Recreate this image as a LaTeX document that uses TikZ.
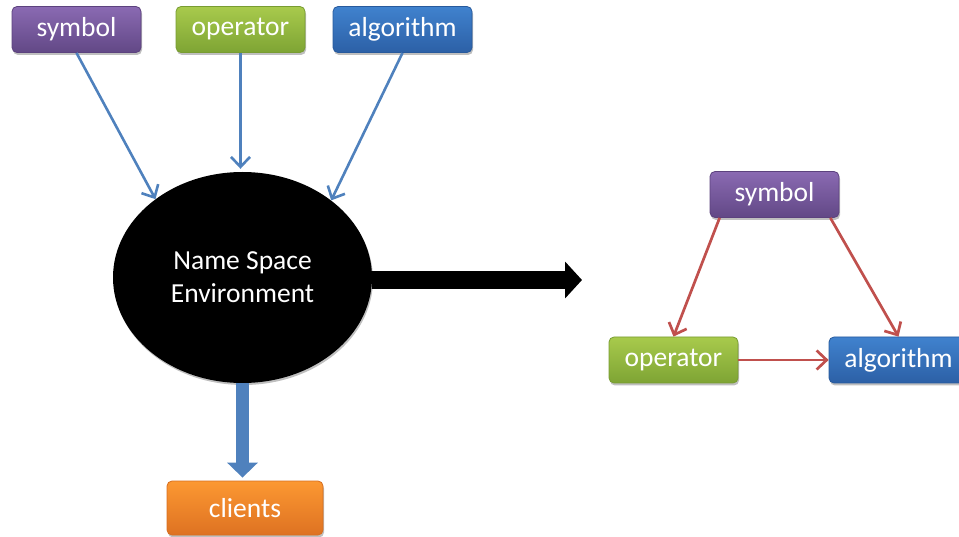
\documentclass[tikz,border=0pt]{standalone}
\usepackage{fontspec}
\setmainfont{Carlito}
\usetikzlibrary{arrows.meta,shapes.geometric,shadows}

% Office-style theme colours
\definecolor{purpTop}{RGB}{138,106,178}
\definecolor{purpBot}{RGB}{98,72,134}
\definecolor{purpLine}{RGB}{92,66,126}
\definecolor{grnTop}{RGB}{168,202,76}
\definecolor{grnBot}{RGB}{126,164,52}
\definecolor{grnLine}{RGB}{120,156,50}
\definecolor{bluTop}{RGB}{64,130,206}
\definecolor{bluBot}{RGB}{44,96,166}
\definecolor{bluLine}{RGB}{40,90,156}
\definecolor{orgTop}{RGB}{252,152,50}
\definecolor{orgBot}{RGB}{222,114,34}
\definecolor{orgLine}{RGB}{214,110,32}
\definecolor{linkBlue}{RGB}{79,129,189}
\definecolor{linkRed}{RGB}{192,80,77}

\tikzset{
  box/.style={rounded corners=5pt, minimum width=129pt, minimum height=46pt,
    inner sep=0pt, text=white, font=\fontsize{27.5}{30}\selectfont,
    line width=0.8pt,
    drop shadow={shadow xshift=1pt, shadow yshift=-2.5pt, opacity=0.25, fill=black}},
  purplebox/.style={box, top color=purpTop, bottom color=purpBot, draw=purpLine},
  greenbox/.style={box, top color=grnTop, bottom color=grnBot, draw=grnLine},
  bluebox/.style={box, top color=bluTop, bottom color=bluBot, draw=bluLine, minimum width=139pt},
  orangebox/.style={box, top color=orgTop, bottom color=orgBot, draw=orgLine, minimum width=156pt, minimum height=54pt},
  feed/.style={draw=linkBlue, line width=2.6pt, -{Straight Barb[length=10pt,width=19pt]}},
  relate/.style={draw=linkRed, line width=2.7pt, -{Straight Barb[length=10pt,width=19pt]}},
}

\begin{document}
\begin{tikzpicture}[x=1pt, y=-1pt]
  \useasboundingbox (0,0) rectangle (959,537);

  % central environment
  \node[ellipse, fill=black, minimum width=259pt, minimum height=211pt, inner sep=0pt,
        text=white, align=center, font=\fontsize{27.5}{33}\selectfont,
        drop shadow={shadow xshift=1pt, shadow yshift=-2pt, opacity=0.25, fill=black}]
        (env) at (242.5,277.5) {Name Space\\Environment};

  % inputs
  \node[purplebox] (symA) at (76.5,29.5) {symbol};
  \node[greenbox]  (opA)  at (240.5,29.5) {operator};
  \node[bluebox]   (algA) at (402.5,29.5) {algorithm};

  % output
  \node[orangebox] (cli) at (245,508) {clients};

  % relation triangle
  \node[purplebox] (symB) at (774.5,194.5) {symbol};
  \node[greenbox]  (opB)  at (673.5,360) {operator};
  \node[bluebox]   (algB) at (898.5,360) {algorithm};

  % feeding arrows
  \draw[feed] (symA.south) -- (env.138);
  \draw[feed, shorten >=3pt] (opA.south) -- (opA.south |- env.north);
  \draw[feed] (algA.south) -- (env.41);

  % thick blue arrow to clients
  \draw[draw=linkBlue, line width=13pt, shorten >=3pt,
        -{Triangle[length=15pt,width=30pt]}] (env.south) -- (env.south |- cli.north);

  % black arrow towards the relation triangle
  \coordinate (tipR) at (582,280);
  \draw[black, line width=18pt, -{Triangle[length=17pt,width=36pt]}]
        (env.east |- tipR) -- (tipR);

  % relations
  \draw[relate] ([xshift=10pt]symB.south west) -- (opB.north);
  \draw[relate] ([xshift=-9pt]symB.south east) -- (algB.north);
  \draw[relate] (opB.east) -- (algB.west);
\end{tikzpicture}
\end{document}
